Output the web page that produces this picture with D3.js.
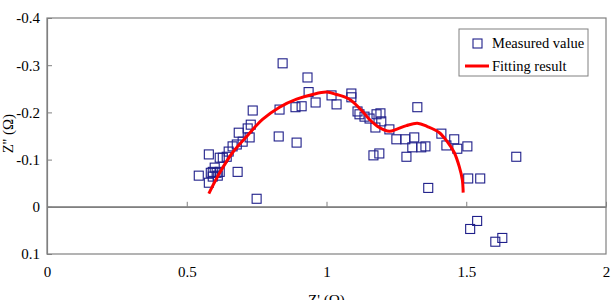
<!DOCTYPE html>
<html>
<head>
<meta charset="utf-8">
<script src="https://cdn.jsdelivr.net/npm/d3@7"></script>
<style>
  body { margin: 0; background: #fff; }
  svg, svg text { font-family: "Liberation Serif", "DejaVu Serif", "Times New Roman", serif; }
</style>
</head>
<body>
<div id="chart"></div>
<script>
// measured points, Z' (ohm) and Z'' (ohm)
const measuredRe = [
  0.543, 0.579, 0.579, 0.586, 0.593, 0.593, 0.600, 0.607, 0.611, 0.618,
  0.618, 0.629, 0.643, 0.650, 0.664, 0.679, 0.682, 0.686, 0.700, 0.718,
  0.725, 0.729, 0.736, 0.750, 0.829, 0.893, 0.832, 0.843, 0.889, 0.911,
  0.932, 0.936, 0.961, 1.018, 1.036, 1.089, 1.089, 1.111, 1.118, 1.136,
  1.154, 1.179, 1.193, 1.196, 1.175, 1.225, 1.325, 1.250, 1.282, 1.314,
  1.307, 1.339, 1.354, 1.286, 1.168, 1.189, 1.364, 1.411, 1.429, 1.457,
  1.468, 1.504, 1.679, 1.507, 1.550, 1.539, 1.514, 1.629, 1.604
];
const measuredIm = [
  -0.066, -0.111, -0.051, -0.072, -0.074, -0.064, -0.083, -0.072, -0.066, -0.074,
  -0.104, -0.104, -0.106, -0.117, -0.128, -0.132, -0.074, -0.157, -0.138, -0.166,
  -0.147, -0.174, -0.204, -0.017, -0.149, -0.136, -0.206, -0.304, -0.211, -0.213,
  -0.274, -0.243, -0.221, -0.236, -0.217, -0.240, -0.232, -0.202, -0.196, -0.191,
  -0.187, -0.196, -0.198, -0.181, -0.168, -0.164, -0.211, -0.143, -0.143, -0.147,
  -0.126, -0.126, -0.128, -0.106, -0.109, -0.113, -0.040, -0.155, -0.130, -0.143,
  -0.123, -0.128, -0.106, -0.060, -0.060, 0.030, 0.047, 0.066, 0.074
];

// fitted curve
const fitRe = [0.579, 0.618, 0.664, 0.714, 0.771, 0.832, 0.893, 0.950, 1.000, 1.036,
  1.082, 1.129, 1.154, 1.189, 1.225, 1.250, 1.286, 1.325, 1.361, 1.404,
  1.432, 1.457, 1.475, 1.486, 1.489];
const fitIm = [-0.028, -0.072, -0.115, -0.149, -0.185, -0.211, -0.228, -0.238, -0.243, -0.238,
  -0.228, -0.202, -0.185, -0.168, -0.160, -0.164, -0.172, -0.177, -0.170, -0.157,
  -0.138, -0.115, -0.085, -0.057, -0.030];

const xTicks = [0, 0.5, 1, 1.5, 2];
const yTicks = [-0.4, -0.3, -0.2, -0.1, 0, 0.1];
const legendItems = ['Measured value', 'Fitting result'];

const width = 616, height = 300;
const margin = {top: 18, right: 10, bottom: 46, left: 47};
const innerW = width - margin.left - margin.right;
const innerH = height - margin.top - margin.bottom;
const navy = '#1f1f8a';
const frame = '#808080';
const serif = '"Liberation Serif", "DejaVu Serif", serif';

const svg = d3.select('#chart').append('svg')
  .attr('width', width)
  .attr('height', height)
  .attr('font-family', serif);

const x = d3.scaleLinear().domain([0, 2]).range([0, innerW]);
const y = d3.scaleLinear().domain([-0.4, 0.1]).range([0, innerH]);

// plain hyphen for negatives, like the source
const fmt = d => d === 0 ? '0' : String(d);

const g = svg.append('g')
  .attr('transform', 'translate(' + [margin.left, margin.top] + ')');

// plot frame
g.append('rect')
  .attr('width', innerW)
  .attr('height', innerH)
  .attr('fill', 'none')
  .attr('stroke', frame)
  .attr('stroke-width', 1.2);

// y axis with inward ticks
const yAxis = g.append('g')
  .call(d3.axisLeft(y).tickValues(yTicks).tickSizeInner(-5).tickSizeOuter(0)
    .tickPadding(7).tickFormat(fmt));

// x axis ticks sit on the zero line
const zeroAxis = g.append('g')
  .attr('transform', 'translate(0,' + y(0) + ')')
  .call(d3.axisTop(x).tickValues(xTicks).tickSize(5).tickSizeOuter(0).tickFormat(''));

// x tick labels along the bottom
const xAxis = g.append('g')
  .attr('transform', 'translate(0,' + innerH + ')')
  .call(d3.axisBottom(x).tickValues(xTicks).tickSize(0).tickPadding(12).tickFormat(fmt));

[yAxis, zeroAxis, xAxis].forEach(ax => {
  ax.attr('font-family', serif).attr('font-size', 15);
  ax.selectAll('.domain').attr('stroke', frame).attr('stroke-width', 1.2);
  ax.selectAll('.tick line').attr('stroke', frame);
  ax.selectAll('text').attr('fill', '#000');
});
xAxis.select('.domain').remove();

// zero line across the whole plot
g.append('line')
  .attr('x1', 0).attr('x2', innerW)
  .attr('y1', y(0)).attr('y2', y(0))
  .attr('stroke', frame)
  .attr('stroke-width', 1.2);

// axis titles (partly clipped by the page edge, as in the source)
svg.append('text')
  .attr('x', margin.left + x(1))
  .attr('y', 305)
  .attr('text-anchor', 'middle')
  .attr('font-size', 15)
  .text("Z' (\u03A9)");

svg.append('text')
  .attr('transform', 'translate(13,' + (margin.top + y(-0.155)) + ') rotate(-90)')
  .attr('text-anchor', 'middle')
  .attr('font-size', 15)
  .text("Z'' (\u03A9)");

// measured squares
const pts = measuredRe.map((re, i) => ({re, im: measuredIm[i]}));
const sq = 9;
g.append('g').selectAll('rect')
  .data(pts)
  .join('rect')
  .attr('x', d => x(d.re) - sq / 2)
  .attr('y', d => y(d.im) - sq / 2)
  .attr('width', sq)
  .attr('height', sq)
  .attr('fill', 'none')
  .attr('stroke', navy)
  .attr('stroke-width', 1.1);

// fitted curve
const fit = fitRe.map((re, i) => ({re, im: fitIm[i]}));
g.append('path')
  .datum(fit)
  .attr('fill', 'none')
  .attr('stroke', '#ff0000')
  .attr('stroke-width', 3)
  .attr('d', d3.line().x(d => x(d.re)).y(d => y(d.im)).curve(d3.curveCatmullRom));

// legend
const lg = svg.append('g').attr('transform', 'translate(459,29)');
lg.append('rect')
  .attr('width', 129)
  .attr('height', 47)
  .attr('fill', '#fff')
  .attr('stroke', frame);
lg.append('rect')
  .attr('x', 14).attr('y', 10)
  .attr('width', sq).attr('height', sq)
  .attr('fill', 'none')
  .attr('stroke', navy)
  .attr('stroke-width', 1.1);
lg.append('line')
  .attr('x1', 6).attr('x2', 30)
  .attr('y1', 37).attr('y2', 37)
  .attr('stroke', '#ff0000')
  .attr('stroke-width', 3);
lg.selectAll('text.item')
  .data(legendItems)
  .join('text')
  .attr('class', 'item')
  .attr('x', 33)
  .attr('y', (d, i) => 19 + i * 23)
  .attr('font-size', 14.5)
  .text(d => d);
</script>
</body>
</html>
